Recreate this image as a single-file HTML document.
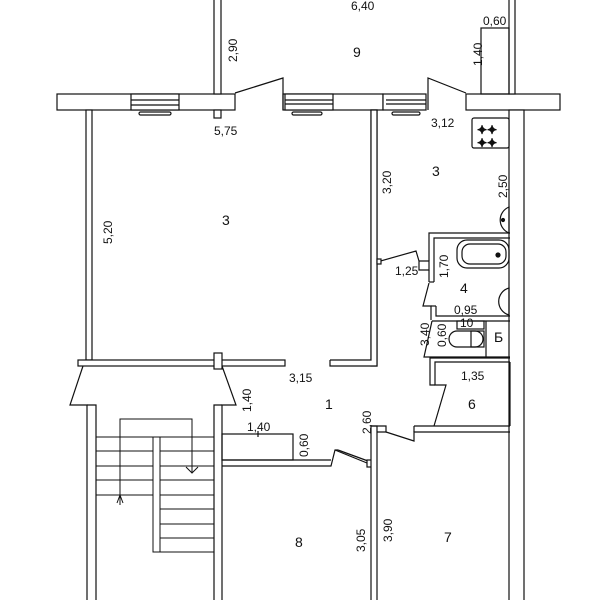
<!DOCTYPE html>
<html><head><meta charset="utf-8"><style>
html,body{margin:0;padding:0;background:#fff}
svg{display:block}
text{font-family:"Liberation Sans",sans-serif;font-size:12px;fill:#111}
.big{font-size:14px}
</style></head><body>
<svg width="600" height="600" viewBox="0 0 600 600" xmlns="http://www.w3.org/2000/svg">
<g fill="#fff" stroke="#111" stroke-width="1.2">
<rect x="57" y="94" width="178" height="16"/>
<rect x="283" y="94" width="100" height="16"/>
<rect x="383" y="94" width="43" height="16"/>
<rect x="466" y="94" width="94" height="16"/>
<rect x="131" y="94" width="48" height="16"/>
<line x1="131" y1="100" x2="179" y2="100"/><line x1="131" y1="105" x2="179" y2="105"/>
<rect x="285" y="94" width="48" height="16"/>
<line x1="285" y1="100" x2="333" y2="100"/><line x1="285" y1="104" x2="333" y2="104"/>
<line x1="386" y1="100" x2="426" y2="100"/><line x1="386" y1="104" x2="426" y2="104"/>
<rect x="139" y="112" width="32" height="3" rx="1.5"/>
<rect x="292" y="112" width="30" height="3" rx="1.5"/>
<rect x="392" y="112" width="28" height="3" rx="1.5"/>
<polyline points="235,93 283,78 283,110" fill="none"/>
<polyline points="428,110 428,78 466,93" fill="none"/>
<rect x="214" y="-2" width="7" height="96"/>
<rect x="509" y="-2" width="6" height="96"/>
<rect x="481" y="28" width="28" height="66" fill="none"/>
<rect x="214" y="110" width="7" height="8"/>
<rect x="509" y="110" width="15" height="492"/>
<rect x="86" y="110" width="6" height="250"/>
<rect x="371" y="110" width="6" height="256"/>
<rect x="78" y="360" width="207" height="6"/>
<rect x="214" y="353" width="8" height="16"/>
<polyline points="330,360 371,360 371,110 377,110 377,366 330,366 330,360"/>
<polyline points="83,366 70,405 87,405 87,602" fill="none"/>
<polyline points="96,602 96,405 87,405" fill="none"/>
<polyline points="222,366 236,405 222,405 222,602" fill="none"/>
<polyline points="214,602 214,405 222,405" fill="none"/>
<g stroke-width="1">
<line x1="96" y1="437" x2="214" y2="437"/>
<line x1="96" y1="451" x2="153" y2="451"/><line x1="96" y1="466" x2="153" y2="466"/>
<line x1="96" y1="480" x2="153" y2="480"/><line x1="96" y1="495" x2="153" y2="495"/>
<line x1="160" y1="451" x2="214" y2="451"/><line x1="160" y1="466" x2="214" y2="466"/>
<line x1="160" y1="480" x2="214" y2="480"/><line x1="160" y1="495" x2="214" y2="495"/>
<line x1="160" y1="509" x2="214" y2="509"/><line x1="160" y1="524" x2="214" y2="524"/>
<line x1="160" y1="538" x2="214" y2="538"/><line x1="160" y1="552" x2="214" y2="552"/>
<rect x="153" y="437" width="7" height="115"/>
<polyline points="120,505 120,419 192,419 192,473" fill="none"/>
<polyline points="186,467 192,473 198,467" fill="none"/>
<polyline points="117,503 120,495 123,503" fill="none"/>
</g>
<rect x="222" y="434" width="71" height="26" fill="none"/>
<line x1="258" y1="431" x2="258" y2="437"/>
<polyline points="222,460 331,460" fill="none"/>
<polyline points="222,466 331,466 335,450 338,450" fill="none"/>
<line x1="335" y1="450" x2="367" y2="463"/>
<line x1="338" y1="450" x2="368" y2="461"/>
<rect x="367" y="460" width="5" height="7"/>
<rect x="371" y="426" width="6" height="176"/>
<polyline points="371,426 386,426 386,432 377,432" fill="none"/>
<polyline points="386,432 414,441 414,432 510,432" fill="none"/>
<line x1="414" y1="426" x2="510" y2="426"/>
<line x1="414" y1="426" x2="414" y2="432"/>
<polyline points="434,426 446,385 435,385 435,362 510,362" fill="none"/>
<polyline points="435,385 430,385 430,358 510,358" fill="none"/>
<line x1="510" y1="362" x2="510" y2="426"/>
<polyline points="432,321 510,321" fill="none"/>
<polyline points="432,321 424,357 510,357" fill="none"/>
<line x1="486" y1="321" x2="486" y2="357"/>
<rect x="457" y="321" width="27" height="8" fill="none"/>
<rect x="449" y="331" width="34" height="16" rx="8" fill="none"/>
<rect x="471" y="331" width="13" height="16" fill="none"/>
<polyline points="429,261 429,233 510,233" fill="none"/>
<polyline points="434,282 434,238 510,238" fill="none"/>
<line x1="429" y1="270" x2="429" y2="282"/>
<line x1="429" y1="282" x2="434" y2="282"/>
<polyline points="429,283 423,306 431,306 431,320" fill="none"/>
<polyline points="436,306 436,316 510,316" fill="none"/>
<line x1="431" y1="306" x2="436" y2="306"/>
<polyline points="377,262 416,251 419,261 429,261 429,270 419,270 419,261" fill="none"/>
<rect x="377" y="259" width="4" height="5"/>
<rect x="457" y="240" width="52" height="28" rx="10" fill="none"/>
<rect x="462" y="244" width="44" height="20" rx="8" fill="none"/>
<circle cx="498" cy="255" r="2" fill="#111"/>
<path d="M509,288 a14,14 0 0 0 0,27 Z" fill="none"/>
<rect x="472" y="118" width="37" height="30" rx="2"/>
<g font-size="13"><text x="477" y="134">✦✦</text><text x="477" y="147">✦✦</text></g>
<path d="M509,207 a14,14 0 0 0 0,26 Z" fill="none"/>
<circle cx="503" cy="220" r="1.5" fill="#111"/>
</g>
<text x="351" y="10">6,40</text>
<text class="big" x="353" y="57">9</text>
<text x="483" y="25">0,60</text>
<text x="214" y="135">5,75</text>
<text x="431" y="127">3,12</text>
<text class="big" x="222" y="225">3</text>
<text class="big" x="432" y="176">3</text>
<text x="395" y="275">1,25</text>
<text class="big" x="460" y="293">4</text>
<text x="454" y="314">0,95</text>
<text x="460" y="327" font-size="10">10</text>
<text class="big" x="494" y="342">Б</text>
<text x="461" y="380">1,35</text>
<text class="big" x="468" y="409">6</text>
<text x="289" y="382">3,15</text>
<text class="big" x="325" y="409">1</text>
<text x="247" y="431">1,40</text>
<text class="big" x="295" y="547">8</text>
<text class="big" x="444" y="542">7</text>
<g>
<text transform="translate(237,62) rotate(-90)">2,90</text>
<text transform="translate(482,66) rotate(-90)">1,40</text>
<text transform="translate(391,194) rotate(-90)">3,20</text>
<text transform="translate(507,198) rotate(-90)">2,50</text>
<text transform="translate(112,244) rotate(-90)">5,20</text>
<text transform="translate(448,278) rotate(-90)">1,70</text>
<text transform="translate(429,346) rotate(-90)">3,40</text>
<text transform="translate(446,347) rotate(-90)">0,60</text>
<text transform="translate(251,412) rotate(-90)">1,40</text>
<text transform="translate(308,457) rotate(-90)">0,60</text>
<text transform="translate(371,434) rotate(-90)">2,60</text>
<text transform="translate(365,552) rotate(-90)">3,05</text>
<text transform="translate(392,542) rotate(-90)">3,90</text>
</g>
</svg>
</body></html>
